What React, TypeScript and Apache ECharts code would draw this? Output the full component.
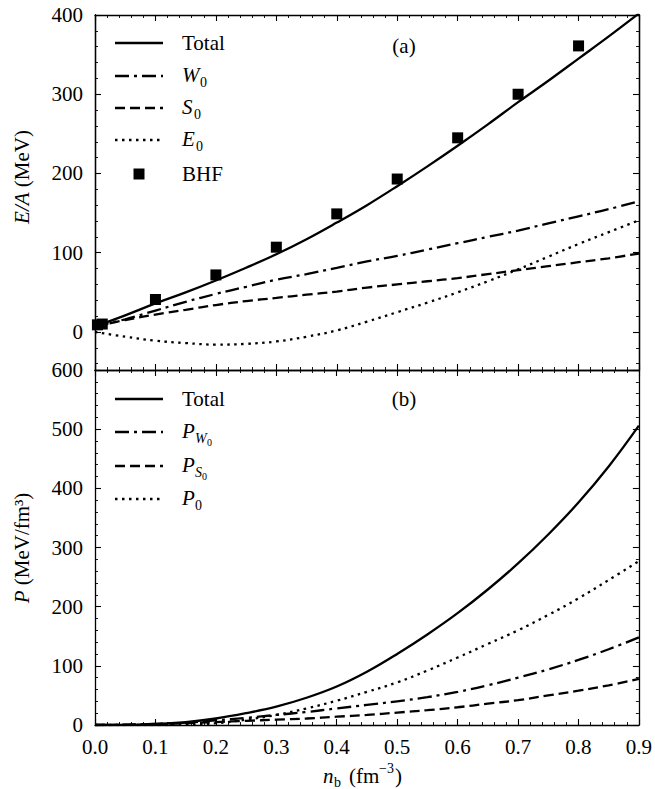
import React, { useEffect, useRef } from 'react';
import * as echarts from 'echarts';

// ---- data ----
const nb = [0, 0.05, 0.1, 0.15, 0.2, 0.25, 0.3, 0.35, 0.4, 0.45, 0.5, 0.55, 0.6, 0.65, 0.7, 0.75, 0.8, 0.85, 0.9];
// panel (a): energy per baryon, MeV
const eTotal = [7, 21, 36, 50, 65, 81, 98, 117, 138, 160, 184, 209, 235, 262, 290, 317, 345, 373, 402];
const eW0 = [7, 16, 27, 38, 48, 57, 66, 73, 81, 89, 96, 104, 112, 120, 128, 137, 146, 155, 165];
const eS0 = [7, 15, 22, 28, 34, 39, 43, 47, 51, 56, 60, 64, 68, 73, 78, 83, 88, 93, 99];
const eE0 = [0, -6, -11, -14, -16, -15, -12, -6, 2, 13, 25, 37, 50, 64, 79, 95, 111, 126, 141];
const bhfN = [0.004, 0.012, 0.1, 0.2, 0.3, 0.4, 0.5, 0.6, 0.7, 0.8];
const bhfE = [9, 10, 41, 72, 107, 149, 193, 245, 300, 361];
// panel (b): pressure, MeV/fm^3
const pTotal = [0, 0.3, 2, 5, 11, 20, 31, 46, 65, 90, 120, 153, 189, 229, 273, 322, 376, 437, 506];
const pW0 = [0, 0.5, 2, 4, 8, 12, 17, 22, 28, 34, 40, 47, 56, 67, 80, 94, 110, 128, 148];
const pS0 = [0, 0.3, 1, 3, 5, 7, 9, 11, 14, 17, 21, 25, 30, 36, 42, 50, 58, 67, 78];
const p0 = [0, 0, 0, 0.5, 3, 9, 17, 28, 41, 56, 72, 92, 114, 137, 160, 186, 214, 245, 277];
// ticks
const eMajorTicks = [0, 100, 200, 300, 400];
const eMinorTicks = [-40, -20, 20, 40, 60, 80, 120, 140, 160, 180, 220, 240, 260, 280, 320, 340, 360, 380];

const FONT = '"Liberation Serif", "DejaVu Serif", serif';
const FS = 21;
const BLACK = '#000';
const LW = 2.3;
const DASH = [10, 5];
const DASHDOT = [14, 5, 3, 5];
const DOT = [2.5, 4.5];

const pairs = (xs: number[], ys: number[]) => xs.map((x, i) => [x, ys[i]]);

function xAxis(grid: number, position: string, labels: boolean) {
  return {
    type: 'value', gridIndex: grid, position, min: 0, max: 0.9, interval: 0.1,
    axisLine: { show: true, onZero: false, lineStyle: { color: BLACK, width: 1.3 } },
    axisTick: { show: true, inside: true, length: 6, lineStyle: { color: BLACK, width: 1.1 } },
    minorTick: { show: true, splitNumber: 5, length: 3, lineStyle: { color: BLACK, width: 0.9 } },
    axisLabel: {
      show: labels, margin: 11, color: BLACK, fontFamily: FONT, fontSize: FS,
      formatter: (v: number) => v.toFixed(1),
    },
    splitLine: { show: false },
    minorSplitLine: { show: false },
  };
}

function yCustom(position: string, values: number[], len: number, labels: boolean) {
  return {
    type: 'value', gridIndex: 0, position, min: -48, max: 400,
    axisLine: { show: true, onZero: false, lineStyle: { color: BLACK, width: 1.3 } },
    axisTick: { show: true, inside: true, length: len, customValues: values, lineStyle: { color: BLACK, width: len > 4 ? 1.1 : 0.9 } },
    axisLabel: { show: labels, customValues: values, margin: 12, color: BLACK, fontFamily: FONT, fontSize: FS },
    splitLine: { show: false },
  };
}

function yBottom(position: string, labels: boolean) {
  return {
    type: 'value', gridIndex: 1, position, min: 0, max: 600, interval: 100,
    axisLine: { show: true, onZero: false, lineStyle: { color: BLACK, width: 1.3 } },
    axisTick: { show: true, inside: true, length: 6, lineStyle: { color: BLACK, width: 1.1 } },
    minorTick: { show: true, splitNumber: 5, length: 3, lineStyle: { color: BLACK, width: 0.9 } },
    axisLabel: { show: labels, margin: 12, color: BLACK, fontFamily: FONT, fontSize: FS },
    splitLine: { show: false },
    minorSplitLine: { show: false },
  };
}

function lineSeries(name: string, x: number, y: number, data: number[], dash: any) {
  return {
    name, type: 'line', xAxisIndex: x, yAxisIndex: y, data: pairs(nb, data),
    smooth: 0.4, showSymbol: false, symbol: 'none',
    lineStyle: { color: BLACK, width: LW, type: dash, cap: 'butt', opacity: 1 },
    z: 3,
  };
}

function txt(x: number, y: number, text: string, size = FS, italic = false, align = 'left') {
  return {
    type: 'text', x, y, z: 10,
    style: {
      text, fill: BLACK, fontFamily: FONT, fontSize: size,
      fontStyle: italic ? 'italic' : 'normal', align, verticalAlign: 'middle',
    },
  };
}

function legLine(y: number, dash: any) {
  return {
    type: 'line', z: 10,
    shape: { x1: 115, y1: y, x2: 163, y2: y },
    style: { stroke: BLACK, lineWidth: LW, lineDash: dash, lineCap: 'butt' },
  };
}

export default function App() {
  const ref = useRef<HTMLDivElement>(null);
  useEffect(() => {
    if (!ref.current) return;
    const chart = echarts.init(ref.current, null, { renderer: 'svg' });
    const option: any = {
      animation: false,
      backgroundColor: '#fff',
      textStyle: { fontFamily: FONT },
      grid: [
        { left: 95, right: 16, top: 15, height: 355, containLabel: false },
        { left: 95, right: 16, top: 370, height: 355, containLabel: false },
      ],
      xAxis: [
        xAxis(0, 'bottom', false),
        xAxis(0, 'top', false),
        xAxis(1, 'bottom', true),
        xAxis(1, 'top', false),
      ],
      yAxis: [
        yCustom('left', eMajorTicks, 6, true),
        yCustom('left', eMinorTicks, 3, false),
        yCustom('right', eMajorTicks, 6, false),
        yCustom('right', eMinorTicks, 3, false),
        yBottom('left', true),
        yBottom('right', false),
      ],
      series: [
        lineSeries('Total', 0, 0, eTotal, 'solid'),
        lineSeries('W0', 0, 0, eW0, DASHDOT),
        lineSeries('S0', 0, 0, eS0, DASH),
        lineSeries('E0', 0, 0, eE0, DOT),
        {
          name: 'BHF', type: 'scatter', xAxisIndex: 0, yAxisIndex: 0,
          data: pairs(bhfN, bhfE), symbol: 'rect', symbolSize: 11,
          itemStyle: { color: BLACK, opacity: 1 }, z: 4,
        },
        lineSeries('Total P', 2, 4, pTotal, 'solid'),
        lineSeries('PW0', 2, 4, pW0, DASHDOT),
        lineSeries('PS0', 2, 4, pS0, DASH),
        lineSeries('P0', 2, 4, p0, DOT),
      ],
      graphic: [
        // legend (a)
        legLine(43, null),
        legLine(76, DASHDOT),
        legLine(108, DASH),
        legLine(140, DOT),
        { type: 'rect', z: 10, shape: { x: 133.5, y: 168.5, width: 11, height: 11 }, style: { fill: BLACK } },
        txt(182, 43, 'Total'),
        txt(182, 75, 'W', FS, true), txt(200, 82, '0', 14),
        txt(182, 107, 'S', FS, true), txt(194, 114, '0', 14),
        txt(182, 139, 'E', FS, true), txt(196, 146, '0', 14),
        txt(182, 174, 'BHF'),
        txt(404, 46, '(a)', FS, false, 'center'),
        // legend (b)
        legLine(399, null),
        legLine(432, DASHDOT),
        legLine(466, DASH),
        legLine(499, DOT),
        txt(182, 399, 'Total'),
        txt(182, 431, 'P', FS, true), txt(195, 438, 'W', 14, true), txt(207, 442, '0', 10),
        txt(182, 465, 'P', FS, true), txt(195, 472, 'S', 14, true), txt(202, 476, '0', 10),
        txt(182, 498, 'P', FS, true), txt(195, 505, '0', 14),
        txt(404, 399, '(b)', FS, false, 'center'),
        // axis names
        {
          type: 'text', x: 22, y: 177, rotation: Math.PI / 2, z: 10,
          style: {
            text: '{i|E/A} (MeV)', fill: BLACK, fontFamily: FONT, fontSize: FS,
            align: 'center', verticalAlign: 'middle',
            rich: { i: { fontStyle: 'italic', fontFamily: FONT, fontSize: FS, fill: BLACK } },
          },
        },
        {
          type: 'text', x: 22, y: 548, rotation: Math.PI / 2, z: 10,
          style: {
            text: '{i|P} (MeV/fm³)', fill: BLACK, fontFamily: FONT, fontSize: FS,
            align: 'center', verticalAlign: 'middle',
            rich: { i: { fontStyle: 'italic', fontFamily: FONT, fontSize: FS, fill: BLACK } },
          },
        },
        txt(323, 776, 'n', FS, true),
        txt(334, 782, 'b', 14),
        txt(349, 776, '(fm'),
        txt(379, 768, '−3', 14),
        txt(395, 776, ')'),
      ],
    };
    chart.setOption(option);
    return () => chart.dispose();
  }, []);
  return (
    <div
      ref={ref}
      style={{ position: 'absolute', left: 0, top: 0, width: 655, height: 789, background: '#fff' }}
    />
  );
}
